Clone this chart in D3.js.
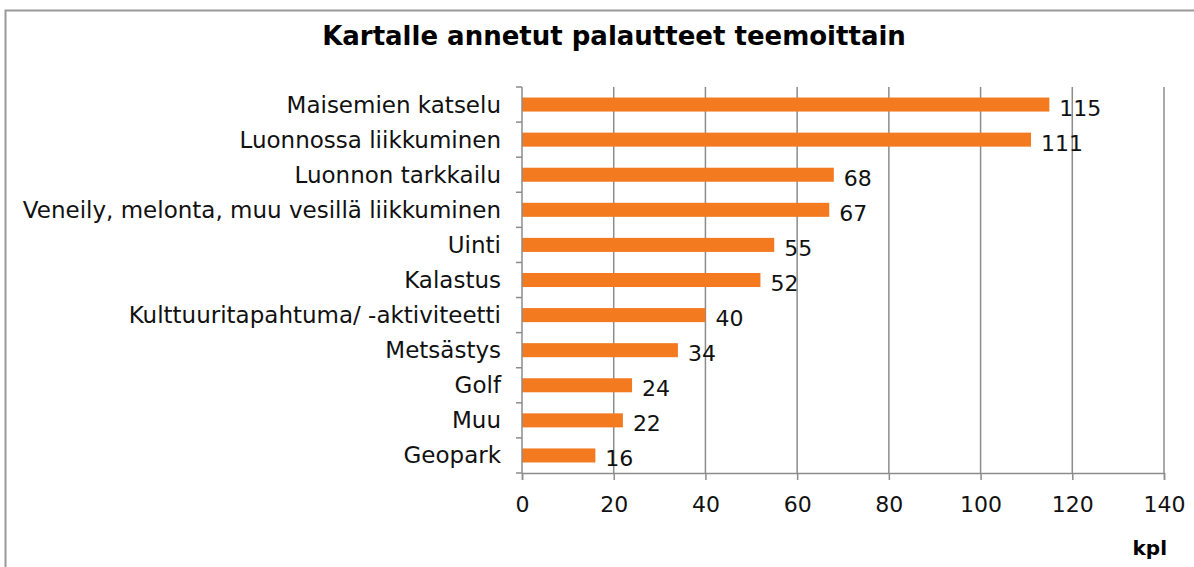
<!DOCTYPE html>
<html>
<head>
<meta charset="utf-8">
<script src="https://cdn.jsdelivr.net/npm/d3@7"></script>
<style>
  body { margin: 0; background: #fff; }
  svg { display: block; font-family: Verdana, "DejaVu Sans", sans-serif; }
</style>
</head>
<body>
<svg id="chart" width="1194" height="567"></svg>
<script>
// data
const categories = [
  "Maisemien katselu",
  "Luonnossa liikkuminen",
  "Luonnon tarkkailu",
  "Veneily, melonta, muu vesillä liikkuminen",
  "Uinti",
  "Kalastus",
  "Kulttuuritapahtuma/ -aktiviteetti",
  "Metsästys",
  "Golf",
  "Muu",
  "Geopark"
];
const counts = [115, 111, 68, 67, 55, 52, 40, 34, 24, 22, 16];
const xTicks = [0, 20, 40, 60, 80, 100, 120, 140];

const title = "Kartalle annetut palautteet teemoittain";
const unitLabel = "kpl";

const svg = d3.select("#chart");
const plotTop = 87, plotBottom = 473;

// outer frame (runs off the right and bottom edge like the original)
svg.append("rect")
    .attr("x", 5.5).attr("y", 10.5)
    .attr("width", 1200).attr("height", 600)
    .attr("fill", "none")
    .attr("stroke", "#999")
    .attr("stroke-width", 2);

svg.append("text")
    .attr("x", 614).attr("y", 45)
    .attr("text-anchor", "middle")
    .attr("font-size", 26)
    .attr("font-weight", "bold")
    .text(title);

const x = d3.scaleLinear()
    .domain([0, 140])
    .range([522, 1164]);

const y = d3.scaleBand()
    .domain(categories)
    .range([plotTop, plotBottom])
    .paddingInner(0.6)
    .paddingOuter(0.3);

// gridlines
svg.append("g")
    .selectAll("line")
    .data(xTicks.slice(1))
    .enter().append("line")
    .attr("x1", d => x(d)).attr("x2", d => x(d))
    .attr("y1", plotTop).attr("y2", plotBottom)
    .attr("stroke", "#8c8c8c")
    .attr("stroke-width", 1.5);

// bars
svg.append("g")
    .selectAll("rect")
    .data(counts)
    .enter().append("rect")
    .attr("x", x(0))
    .attr("y", (d, i) => y(categories[i]))
    .attr("width", d => x(d) - x(0))
    .attr("height", y.bandwidth())
    .attr("fill", "#f47a20");

// value labels
svg.append("g")
    .selectAll("text")
    .data(counts)
    .enter().append("text")
    .attr("x", d => x(d) + 10)
    .attr("y", (d, i) => y(categories[i]) + y.bandwidth() / 2 + 11)
    .attr("font-size", 22)
    .attr("fill", "#111")
    .text(d => d);

// x axis
const xAxis = svg.append("g")
    .attr("transform", `translate(0,${plotBottom})`)
    .call(d3.axisBottom(x).tickValues(xTicks).tickSize(7).tickPadding(0));
xAxis.select(".domain").attr("stroke", "#8c8c8c").attr("stroke-width", 1.5);
xAxis.selectAll(".tick line").attr("stroke", "#8c8c8c").attr("stroke-width", 1.5);
xAxis.selectAll("text")
    .attr("dy", null)
    .attr("y", 39)
    .attr("font-size", 22)
    .attr("fill", "#111")
    .attr("font-family", "Verdana, 'DejaVu Sans', sans-serif");

// y axis: line plus ticks at band boundaries
const step = y.step();
const yLine = svg.append("g");
yLine.append("line")
    .attr("x1", x(0)).attr("x2", x(0))
    .attr("y1", plotTop).attr("y2", plotBottom)
    .attr("stroke", "#8c8c8c").attr("stroke-width", 1.5);
yLine.selectAll("line.tick")
    .data(d3.range(categories.length + 1))
    .enter().append("line")
    .attr("class", "tick")
    .attr("x1", x(0) - 6).attr("x2", x(0))
    .attr("y1", i => plotTop + i * step).attr("y2", i => plotTop + i * step)
    .attr("stroke", "#8c8c8c").attr("stroke-width", 1.5);

svg.append("g")
    .selectAll("text")
    .data(categories)
    .enter().append("text")
    .attr("x", 501)
    .attr("y", d => y(d) + y.bandwidth() / 2 + 8)
    .attr("text-anchor", "end")
    .attr("font-size", 23)
    .attr("fill", "#111")
    .text(d => d);

svg.append("text")
    .attr("x", 1167).attr("y", 555)
    .attr("text-anchor", "end")
    .attr("font-size", 20)
    .attr("font-weight", "bold")
    .text(unitLabel);
</script>
</body>
</html>
